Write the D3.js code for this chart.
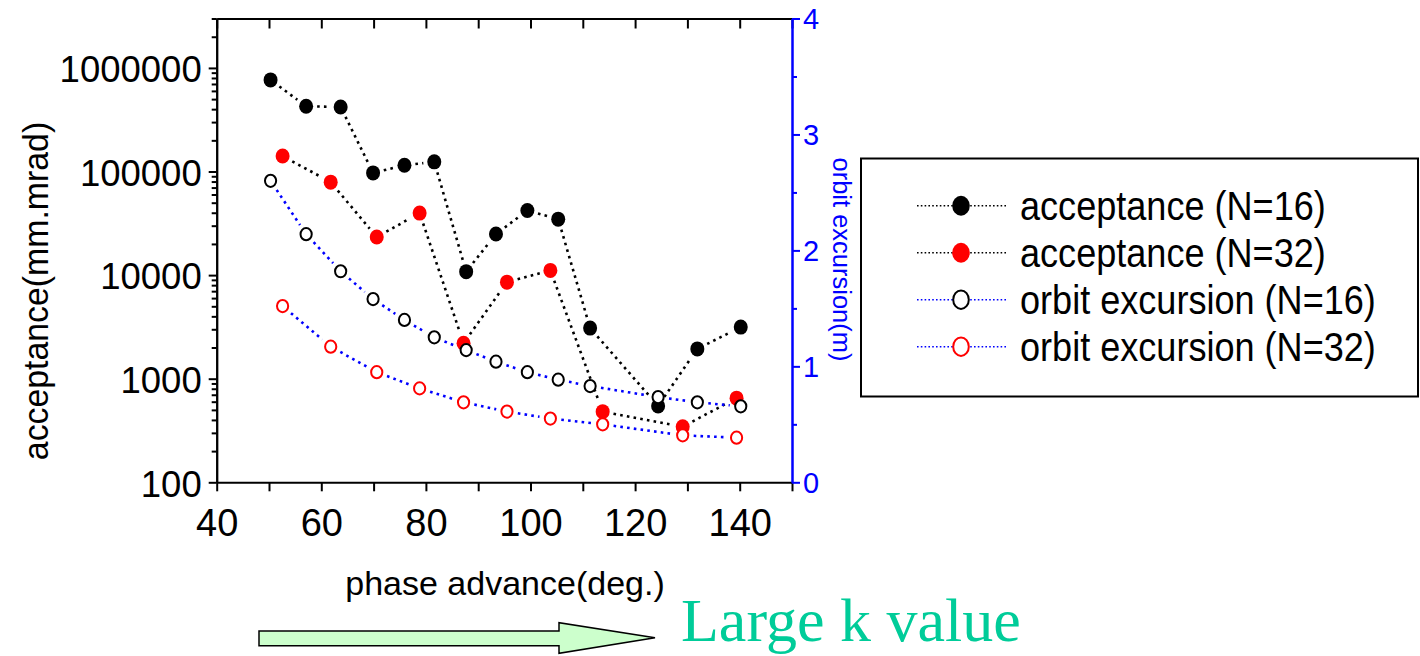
<!DOCTYPE html>
<html>
<head>
<meta charset="utf-8">
<script src="https://cdn.jsdelivr.net/npm/d3@7"></script>
<style>
  html, body { margin: 0; padding: 0; background: #fff; }
  svg { display: block; }
  text { font-family: "Liberation Sans", Arial, sans-serif; }
</style>
</head>
<body>
<svg id="chart" width="1420" height="656"></svg>
<script>
// Phase advance per cell (deg.) for the two lattices
const phase16 = [50.3, 57.1, 63.7, 69.9, 75.9, 81.6, 87.7, 93.4, 99.4, 105.3, 111.4, 124.4, 131.9, 140.2];
const phase32 = [52.6, 61.8, 70.6, 78.8, 87.2, 95.5, 103.8, 113.8, 129.1, 139.4];

// Acceptance (mm.mrad), left log axis
const acceptance16 = [766000, 426000, 420000, 97000, 115000, 124000, 10800, 24900, 42000, 34700, 3080, 546, 1940, 3150];
const acceptance32 = [141000, 79000, 23300, 39700, 2200, 8550, 11100, 481, 344, 649];

// Orbit excursion (m), right linear axis
const orbit16 = [2.60, 2.14, 1.82, 1.58, 1.40, 1.25, 1.14, 1.04, 0.95, 0.885, 0.83, 0.735, 0.69, 0.655];
const orbit32 = [1.52, 1.17, 0.95, 0.81, 0.69, 0.61, 0.55, 0.50, 0.405, 0.385];

// Axis ticks
const xTicks = [40, 50, 60, 70, 80, 90, 100, 110, 120, 130, 140, 150];
const xLabelled = [40, 60, 80, 100, 120, 140];
const leftTicks = [100, 1000, 10000, 100000, 1000000];
const rightTicks = [0, 1, 2, 3, 4];
const rightMinor = [0.5, 1.5, 2.5, 3.5];

const legendLabels = ["acceptance (N=16)", "acceptance (N=32)", "orbit excursion (N=16)", "orbit excursion (N=32)"];

const svg = d3.select("#chart");
const plot = { left: 216.7, right: 792, top: 18.5, bottom: 482.3 };

const x = d3.scaleLinear().domain([40, 150]).range([plot.left, plot.right]);
const yL = d3.scaleLog().domain([100, 3e6]).range([plot.bottom, plot.top]);
const yR = d3.scaleLinear().domain([0, 4]).range([plot.bottom, plot.top]);

// minor ticks of the log axis: 2..9 in each decade
const leftMinor = [];
for (let e = 2; e <= 6; e++) {
  for (let m = 2; m <= 9; m++) {
    const v = m * Math.pow(10, e);
    if (v <= 3e6) leftMinor.push(v);
  }
}

function styleAxis(g, color) {
  g.selectAll("path.domain").attr("stroke", color).attr("stroke-width", 2);
  g.selectAll(".tick line").attr("stroke", color).attr("stroke-width", 2);
  g.selectAll(".tick text").attr("fill", color);
}

// top frame with inward ticks
const gTop = svg.append("g").attr("transform", `translate(0,${plot.top})`)
  .call(d3.axisTop(x).tickValues(xTicks).tickSizeInner(-10).tickSizeOuter(0).tickFormat(""));
styleAxis(gTop, "#000");

// bottom axis
const gBottom = svg.append("g").attr("transform", `translate(0,${plot.bottom})`)
  .call(d3.axisBottom(x).tickValues(xTicks).tickSize(9).tickSizeOuter(0)
    .tickFormat(d => xLabelled.includes(d) ? String(d) : ""));
styleAxis(gBottom, "#000");
gBottom.selectAll(".tick text")
  .attr("y", 53.4).attr("dy", null)
  .attr("font-size", 38).attr("text-anchor", "middle");

// left log axis
const gLeftMinor = svg.append("g").attr("transform", `translate(${plot.left},0)`)
  .call(d3.axisLeft(yL).tickValues(leftMinor).tickSize(5).tickSizeOuter(0).tickFormat(""));
styleAxis(gLeftMinor, "#000");
const gLeft = svg.append("g").attr("transform", `translate(${plot.left},0)`)
  .call(d3.axisLeft(yL).tickValues(leftTicks).tickSize(8).tickPadding(7).tickSizeOuter(0)
    .tickFormat(d3.format("d")));
styleAxis(gLeft, "#000");
gLeft.selectAll(".tick text").attr("font-size", 36.5).attr("dy", "0.38em");

// right linear axis (blue)
const gRightMinor = svg.append("g").attr("transform", `translate(${plot.right},0)`)
  .call(d3.axisRight(yR).tickValues(rightMinor).tickSize(5).tickSizeOuter(0).tickFormat(""));
styleAxis(gRightMinor, "#0000ff");
const gRight = svg.append("g").attr("transform", `translate(${plot.right},0)`)
  .call(d3.axisRight(yR).tickValues(rightTicks).tickSize(8).tickPadding(3).tickSizeOuter(0)
    .tickFormat(d3.format("d")));
styleAxis(gRight, "#0000ff");
gRight.selectAll(".tick text").attr("font-size", 29).attr("dy", "0.36em");

// axis titles
svg.append("text")
  .attr("transform", `translate(47.5,291) rotate(-90) scale(0.94,1)`)
  .attr("text-anchor", "middle").attr("font-size", 36).attr("fill", "#000")
  .text("acceptance(mm.mrad)");
svg.append("text")
  .attr("transform", `translate(833,259.5) rotate(90)`)
  .attr("text-anchor", "middle").attr("font-size", 25.5).attr("fill", "#0000ff")
  .text("orbit excursion(m)");
svg.append("text")
  .attr("x", 505).attr("y", 595)
  .attr("text-anchor", "middle").attr("font-size", 34).attr("fill", "#000")
  .text("phase advance(deg.)");

// series definitions
const series = [
  { xs: phase16, ys: acceptance16, scale: yL, line: "#000", fill: "#000", stroke: "none", open: false },
  { xs: phase32, ys: acceptance32, scale: yL, line: "#000", fill: "#ff0000", stroke: "none", open: false },
  { xs: phase16, ys: orbit16, scale: yR, line: "#0000ff", fill: "#fff", stroke: "#000", open: true },
  { xs: phase32, ys: orbit32, scale: yR, line: "#0000ff", fill: "#fff", stroke: "#ff0000", open: true }
];

// dotted connecting segments that stop short of each marker
const gap = 11;
const gLines = svg.append("g");
series.forEach(s => {
  const pts = s.xs.map((v, i) => [x(v), s.scale(s.ys[i])]);
  const segs = [];
  for (let i = 0; i < pts.length - 1; i++) {
    const [x0, y0] = pts[i], [x1, y1] = pts[i + 1];
    const d = Math.hypot(x1 - x0, y1 - y0);
    if (d <= 2 * gap) continue;
    const ux = (x1 - x0) / d, uy = (y1 - y0) / d;
    segs.push([x0 + ux * gap, y0 + uy * gap, x1 - ux * gap, y1 - uy * gap]);
  }
  gLines.selectAll(null).data(segs).enter().append("line")
    .attr("x1", d => d[0]).attr("y1", d => d[1])
    .attr("x2", d => d[2]).attr("y2", d => d[3])
    .attr("stroke", s.line).attr("stroke-width", 2.6)
    .attr("stroke-dasharray", "2.6,4.2");
});

// markers: filled acceptance first, open orbit markers on top
series.forEach(s => {
  const g = svg.append("g");
  g.selectAll("ellipse").data(s.xs.map((v, i) => [v, s.ys[i]])).enter().append("ellipse")
    .attr("cx", d => x(d[0])).attr("cy", d => s.scale(d[1]))
    .attr("rx", s.open ? 5.6 : 7).attr("ry", s.open ? 6.1 : 7.5)
    .attr("fill", s.fill)
    .attr("stroke", s.stroke).attr("stroke-width", s.open ? 2 : 0);
});

// legend
const legend = svg.append("g");
legend.append("rect")
  .attr("x", 861).attr("y", 158.5).attr("width", 557).attr("height", 238)
  .attr("fill", "#fff").attr("stroke", "#000").attr("stroke-width", 2);
legendLabels.forEach((label, i) => {
  const s = series[i];
  const cy = 205.7 + i * 47;
  legend.append("line")
    .attr("x1", 917).attr("x2", 1006).attr("y1", cy).attr("y2", cy)
    .attr("stroke", s.line).attr("stroke-width", 1.6).attr("stroke-dasharray", "1.6,2.2");
  legend.append("ellipse")
    .attr("cx", 961).attr("cy", cy)
    .attr("rx", s.open ? 7.8 : 8.8).attr("ry", s.open ? 9.2 : 10)
    .attr("fill", s.fill).attr("stroke", s.stroke).attr("stroke-width", s.open ? 2 : 0);
  legend.append("text")
    .attr("transform", `translate(1020,${cy}) scale(0.88,1)`)
    .attr("dy", "0.36em").attr("font-size", 41).attr("fill", "#000")
    .text(label);
});

// direction arrow and note below the chart
svg.append("path")
  .attr("d", "M259,631 L559,631 L559,622.7 L655,637.7 L559,653.3 L559,645.7 L259,645.7 Z")
  .attr("fill", "#ccffcc").attr("stroke", "#000").attr("stroke-width", 1.5)
  .attr("stroke-linejoin", "miter");
svg.append("text")
  .attr("x", 681).attr("y", 641)
  .style("font-family", "'Liberation Serif', 'Times New Roman', serif")
  .attr("font-size", 62).attr("fill", "#00cc99")
  .text("Large k value");
</script>
</body>
</html>
